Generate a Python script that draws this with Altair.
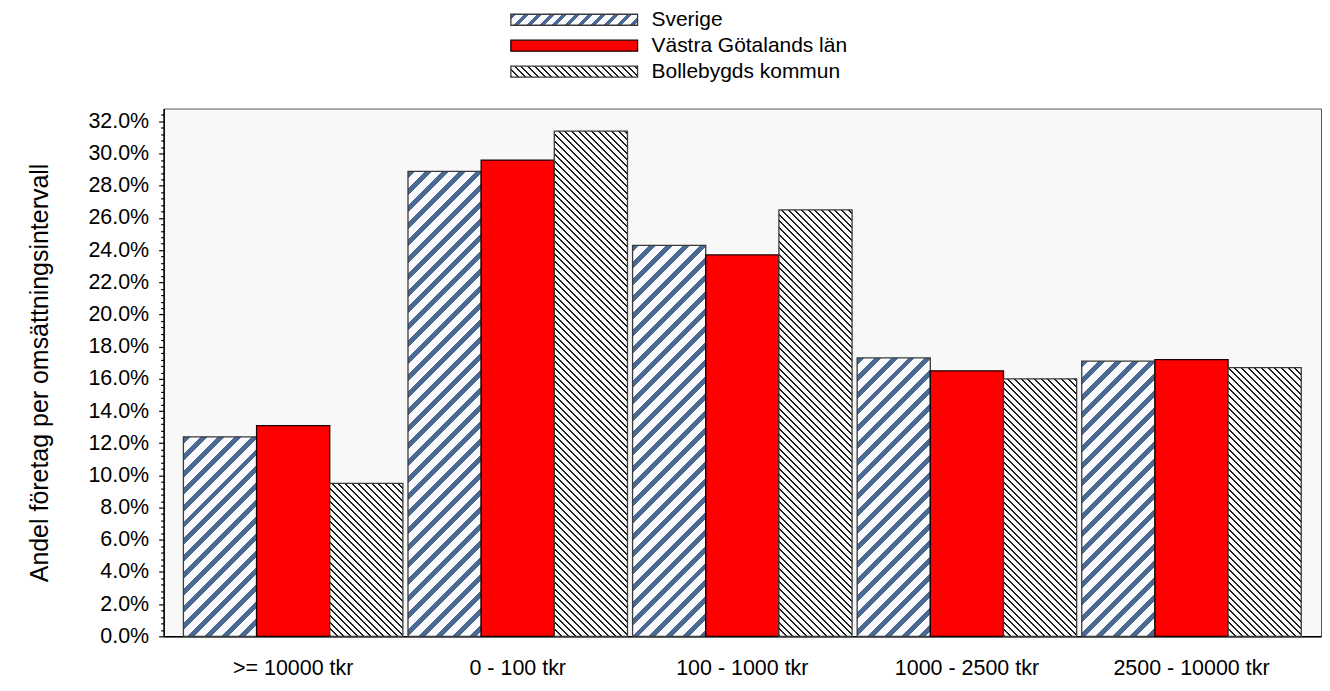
import altair as alt
import pandas as pd

# ---------------- data ----------------
categories = [">= 10000 tkr", "0 - 100 tkr", "100 - 1000 tkr", "1000 - 2500 tkr", "2500 - 10000 tkr"]
series_names = ["Sverige", "Västra Götalands län", "Bollebygds kommun"]
sverige = [12.4, 28.9, 24.3, 17.3, 17.1]
vastra = [13.1, 29.6, 23.7, 16.5, 17.2]
bollebygd = [9.5, 31.4, 26.5, 16.0, 16.7]
y_tick_values = [round(i * 0.4, 1) for i in range(82)]
y_title = "Andel företag per omsättningsintervall"

# ---------------- styling ----------------
FONT = "Liberation Sans"
W, H = 1160, 529
Y_MAX = 32.8
PAD_IN, PAD_OUT = 0.0227, 0.088
RED = "#ff0000"
SV_STRIPE = "#4a6a93"
BO_LINE = "#1e1e1e"
HATCH_BG = "#fbfbfd"
LEG_X = 348

rows = []
for s, vals in zip(series_names, [sverige, vastra, bollebygd]):
    for c, v in zip(categories, vals):
        rows.append({"cat": c, "series": s, "value": v})
df = pd.DataFrame(rows)

step = W / (len(categories) - PAD_IN + 2 * PAD_OUT)
bar_w = step * (1 - PAD_IN) / len(series_names)


def hatch(w, h, period, thick, color, bg, up):
    """Striped linear gradient (hatch look) for a rect of w x h pixels."""
    k = (w + h) / (w * w + h * h)
    total = w + h
    stops = []
    i = 0
    while i * period < total:
        a = i * period / total
        b = min((i * period + thick) / total, 1)
        c = min((i + 1) * period / total, 1)
        stops += [{"offset": a, "color": color}, {"offset": b, "color": color},
                  {"offset": b, "color": bg}, {"offset": c, "color": bg}]
        i += 1
    if up:
        return {"gradient": "linear", "x1": 0, "y1": 0, "x2": w * k, "y2": h * k, "stops": stops}
    return {"gradient": "linear", "x1": 0, "y1": 1, "x2": w * k, "y2": 1 - h * k, "stops": stops}


conds = []
for c, v in zip(categories, sverige):
    conds.append({"test": f"datum.cat === '{c}' && datum.series === 'Sverige'",
                  "value": hatch(bar_w, v / Y_MAX * H, 17, 7, SV_STRIPE, HATCH_BG, True)})
for c, v in zip(categories, bollebygd):
    conds.append({"test": f"datum.cat === '{c}' && datum.series === 'Bollebygds kommun'",
                  "value": hatch(bar_w, v / Y_MAX * H, 6.7, 2, BO_LINE, HATCH_BG, False)})
fill = alt.value(RED, condition=conds)
stroke = alt.value("#3a3a3a", condition={"test": "datum.series === 'Västra Götalands län'", "value": "#1a0000"})

major = "abs(datum.value / 2 - round(datum.value / 2)) < 0.001"

bars = alt.Chart(df).mark_bar(strokeWidth=1.3).encode(
    x=alt.X("cat:N", sort=categories, title=None,
            scale=alt.Scale(paddingInner=PAD_IN, paddingOuter=PAD_OUT),
            axis=alt.Axis(labelAngle=0, ticks=False, labelPadding=21, labelFont=FONT,
                          labelFontSize=21.5, labelColor="#000", domainColor="#000",
                          domainWidth=1.5)),
    xOffset=alt.XOffset("series:N", sort=series_names,
                        scale=alt.Scale(paddingInner=0, paddingOuter=0)),
    y=alt.Y("value:Q", title=y_title,
            scale=alt.Scale(domain=[0, Y_MAX], nice=False, zero=True),
            axis=alt.Axis(values=y_tick_values,
                          labelExpr=f"{major} ? format(datum.value, '.1f') + '%' : ''",
                          tickSize={"condition": {"test": major, "value": 5}, "value": 3},
                          tickColor="#000", tickWidth=1.2, domainColor="#000", domainWidth=1.5,
                          labelPadding=10, labelOverlap=False, grid=False,
                          labelFont=FONT, labelFontSize=21.5, labelColor="#000",
                          titleFont=FONT, titleFontSize=25, titleFontWeight="normal",
                          titleColor="#000", titlePadding=35)),
    fill=fill,
    stroke=stroke,
).properties(width=W, height=H, view=alt.ViewBackground(fill="#f8f8f8", stroke="#555"))

leg_df = pd.DataFrame({"series": series_names})
leg_fill = alt.value(RED, condition=[
    {"test": "datum.series === 'Sverige'", "value": hatch(127, 11, 13, 5, SV_STRIPE, HATCH_BG, True)},
    {"test": "datum.series === 'Bollebygds kommun'", "value": hatch(127, 11, 6.7, 2, BO_LINE, HATCH_BG, False)},
])
ly = alt.Y("series:N", sort=series_names, axis=None,
           scale=alt.Scale(paddingInner=0, paddingOuter=0))
leg_sym = alt.Chart(leg_df).mark_bar(size=11, strokeWidth=1.3, yOffset=-3).encode(
    x=alt.value(LEG_X), x2=alt.value(LEG_X + 127), y=ly, fill=leg_fill, stroke=stroke)
leg_txt = alt.Chart(leg_df).mark_text(align="left", baseline="middle", font=FONT,
                                      fontSize=21, yOffset=-3, color="#000").encode(
    x=alt.value(LEG_X + 141), y=ly, text="series:N")
legend = alt.layer(leg_sym, leg_txt).properties(
    width=W, height=78, view=alt.ViewBackground(stroke=None, fill=None))

chart = alt.vconcat(legend, bars, spacing=15).properties(
    padding={"left": 19, "top": 0, "right": 0, "bottom": 0},
    background="#ffffff",
).configure(font=FONT)

chart.save("out.html", embed_options={"renderer": "svg", "actions": False})
